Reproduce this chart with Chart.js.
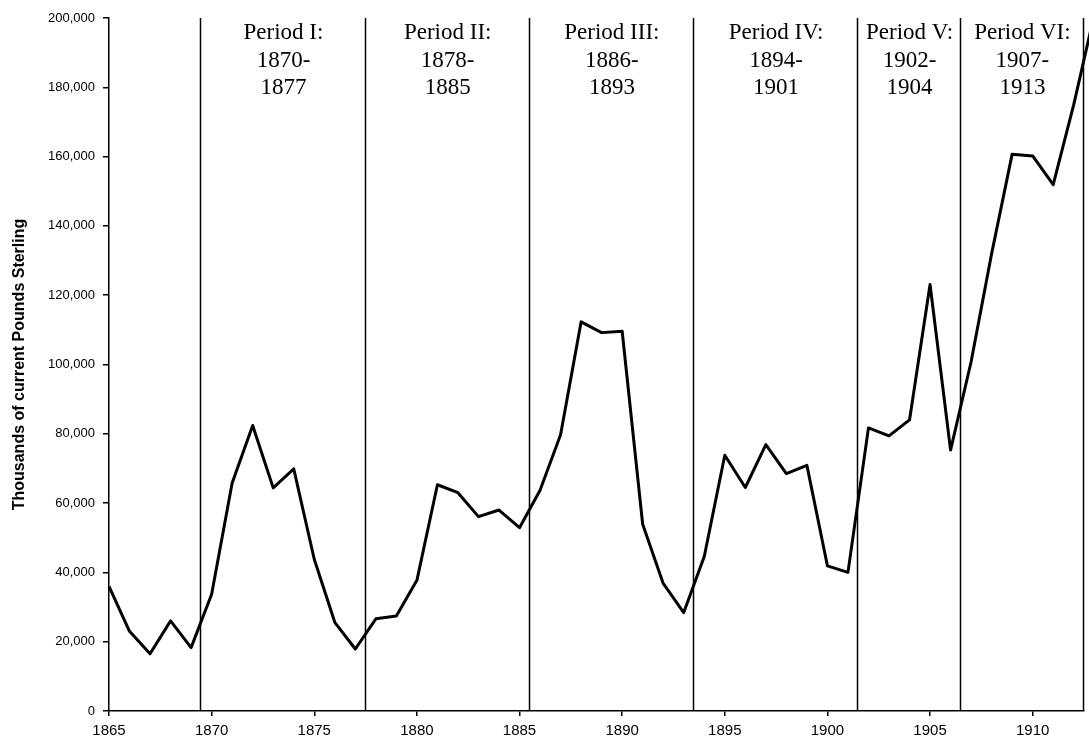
<!DOCTYPE html>
<html lang="en">
<head>
    <meta charset="UTF-8">
    <title>Thousands of current Pounds Sterling, 1865-1913</title>
    <style>
        html, body { margin: 0; padding: 0; background: #fff; overflow: hidden; }
        canvas { display: block; }
    </style>
</head>
<body>
<canvas id="myChart" width="1089" height="750"></canvas>

<script src="https://cdn.jsdelivr.net/npm/chart.js@4.4.0/dist/chart.umd.min.js"></script>
<script>
    // ------------------------------------------------------------------ data

    var years = [
      1865, 1866, 1867, 1868, 1869, 1870, 1871, 1872, 1873, 1874,
      1875, 1876, 1877, 1878, 1879, 1880, 1881, 1882, 1883, 1884,
      1885, 1886, 1887, 1888, 1889, 1890, 1891, 1892, 1893, 1894,
      1895, 1896, 1897, 1898, 1899, 1900, 1901, 1902, 1903, 1904,
      1905, 1906, 1907, 1908, 1909, 1910, 1911, 1912, 1913
    ]

    var values = [
      36000, 23000, 16500, 26000, 18300, 33700, 65800, 82400, 64400, 69900,
      43800, 25600, 17900, 26600, 27400, 37700, 65300, 63000, 56100, 58000,
      52900, 63700, 79700, 112300, 109200, 109600, 53900, 36800, 28400, 44600,
      73800, 64500, 76900, 68500, 70900, 41900, 40000, 81700, 79400, 84000,
      123100, 75300, 100800, 132000, 160700, 160200, 151900, 175000, 201000
    ]

    var xTicks = [1865, 1870, 1875, 1880, 1885, 1890, 1895, 1900, 1905, 1910]

    // boundaries between the periods (vertical lines)
    var periodBounds = [1869.5, 1877.5, 1885.5, 1893.5, 1901.5, 1906.5, 1912.5]
    var periodNames = ['Period I:', 'Period II:', 'Period III:', 'Period IV:', 'Period V:', 'Period VI:']
    var periodStart = ['1870-', '1878-', '1886-', '1894-', '1902-', '1907-']
    var periodEnd = ['1877', '1885', '1893', '1901', '1904', '1913']

    // -------------------------------------------------------------- plugins

    var periodPlugin = {
      id: 'periods',
      afterDatasetsDraw: function (chart) {
        var ctx = chart.ctx
        var xs = chart.scales.x
        var area = chart.chartArea

        ctx.save()
        ctx.strokeStyle = '#000'
        ctx.lineWidth = 1.5
        periodBounds.forEach(function (b) {
          var px = Math.round(xs.getPixelForValue(b)) - 0.5
          ctx.beginPath()
          ctx.moveTo(px, area.top)
          ctx.lineTo(px, area.bottom)
          ctx.stroke()
        })

        ctx.fillStyle = '#000'
        ctx.font = '23px "Liberation Serif", "Times New Roman", serif'
        ctx.textAlign = 'center'
        ctx.textBaseline = 'alphabetic'
        for (var i = 0; i < periodNames.length; i++) {
          var cx = xs.getPixelForValue((periodBounds[i] + periodBounds[i + 1]) / 2)
          ctx.fillText(periodNames[i], cx, area.top + 21)
          ctx.fillText(periodStart[i], cx, area.top + 48.5)
          ctx.fillText(periodEnd[i], cx, area.top + 76)
        }
        ctx.restore()
      }
    }

    // ------------------------------------------------------------- chart.js

    Chart.defaults.font.family = '"Liberation Sans", Arial, sans-serif'
    Chart.defaults.color = '#000'

    var points = years.map(function (y, i) {
      return { x: y, y: values[i] }
    })

    var ctx = document.getElementById('myChart').getContext('2d')
    var myChart = new Chart(ctx, {
      type: 'line',
      data: {
        datasets: [{
          data: points,
          borderColor: '#000',
          borderWidth: 3,
          borderJoinStyle: 'round',
          pointRadius: 0,
          tension: 0,
          fill: false,
          clip: false
        }]
      },
      plugins: [periodPlugin],
      options: {
        responsive: false,
        animation: false,
        layout: { padding: { top: 18, right: 5, left: 0, bottom: 0 } },
        plugins: {
          legend: { display: false },
          tooltip: { enabled: false }
        },
        scales: {
          x: {
            type: 'linear',
            min: 1865,
            max: 1912.5,
            afterBuildTicks: function (scale) {
              scale.ticks = xTicks.map(function (v) { return { value: v } })
            },
            afterFit: function (scale) { scale.height = 39 },
            ticks: {
              font: { size: 15 },
              padding: 6,
              maxRotation: 0,
              callback: function (v) { return String(v) }
            },
            grid: { drawOnChartArea: false, tickLength: 5, color: '#000', lineWidth: 1.5 },
            border: { color: '#000', width: 1.5 }
          },
          y: {
            min: 0,
            max: 200000,
            afterFit: function (scale) { scale.width = 109 },
            ticks: {
              stepSize: 20000,
              font: { size: 13 },
              padding: 8,
              callback: function (v) { return v.toLocaleString('en-US') }
            },
            grid: { drawOnChartArea: false, tickLength: 6, color: '#000', lineWidth: 1.5 },
            border: { color: '#000', width: 1.5 },
            title: {
              display: true,
              text: 'Thousands of current Pounds Sterling',
              font: { size: 16, weight: 'bold' },
              padding: { top: 10, bottom: 0 }
            }
          }
        }
      }
    })
</script>
</body>
</html>
